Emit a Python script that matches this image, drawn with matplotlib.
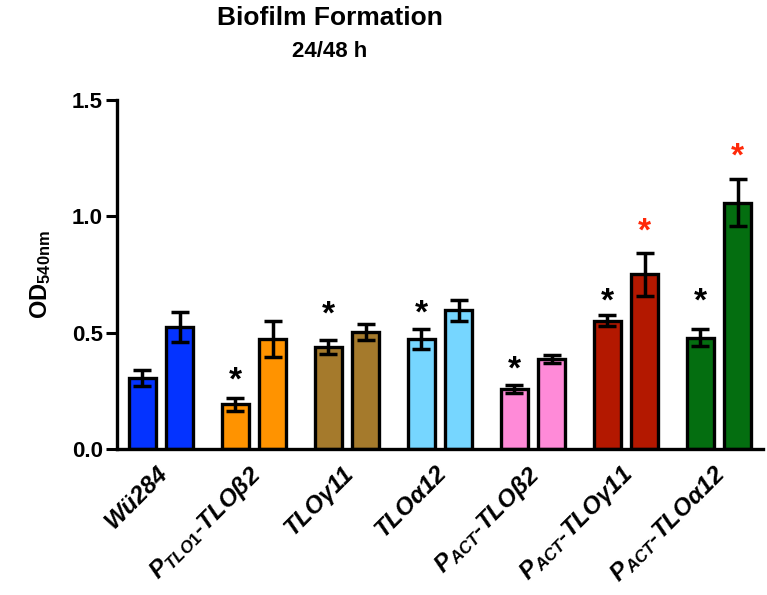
import numpy as np
import matplotlib
matplotlib.use("Agg")
import matplotlib.pyplot as plt

plt.rcParams['font.family'] = ['Liberation Sans', 'DejaVu Sans']
plt.rcParams['font.weight'] = 'bold'
plt.rcParams['mathtext.fontset'] = 'custom'
plt.rcParams['mathtext.rm'] = 'Liberation Sans:bold'
plt.rcParams['mathtext.it'] = 'Liberation Sans:italic:bold'
plt.rcParams['mathtext.bf'] = 'Liberation Sans:bold'

# Daten
strains = ['Wü284', 'P$_{TLO1}$-TLOβ2', 'TLOγ11', 'TLOα12',
           'P$_{ACT}$-TLOβ2', 'P$_{ACT}$-TLOγ11', 'P$_{ACT}$-TLOα12']
colors = ['#0433FF', '#FF9300', '#A57A2C', '#76D6FF', '#FF8AD8', '#B31800', '#046E10']
od_24h = [0.305, 0.192, 0.438, 0.471, 0.257, 0.552, 0.479]
err_24h = [0.036, 0.027, 0.029, 0.043, 0.017, 0.022, 0.036]
od_48h = [0.524, 0.473, 0.502, 0.597, 0.386, 0.751, 1.059]
err_48h = [0.065, 0.077, 0.035, 0.045, 0.016, 0.093, 0.100]
# Signifikanz-Sterne (Höhe, None = kein Stern)
star_24h = [None, 0.29, 0.575, 0.582, 0.34, 0.632, 0.632]
star_48h = [None, None, None, None, None, 0.933, 1.254]

x = np.arange(len(strains))
w = 0.29
d = 0.2

fig = plt.figure(figsize=(7.67, 5.95), dpi=100)
ax = fig.add_axes([0.1525, 0.2454, 0.842, 0.5866])

ax.bar(x - d, od_24h, w, color=colors, edgecolor='black', linewidth=2.4, zorder=2)
ax.bar(x + d, od_48h, w, color=colors, edgecolor='black', linewidth=2.4, zorder=2)
ax.errorbar(x - d, od_24h, yerr=err_24h, fmt='none', ecolor='black',
            elinewidth=2.5, capsize=6.5, capthick=2.5, zorder=3)
ax.errorbar(x + d, od_48h, yerr=err_48h, fmt='none', ecolor='black',
            elinewidth=2.5, capsize=6.5, capthick=2.5, zorder=3)

for i in range(len(strains)):
    if star_24h[i] is not None:
        ax.text(x[i] - d, star_24h[i], '*', ha='center', va='center',
                fontsize=24, color='black')
    if star_48h[i] is not None:
        ax.text(x[i] + d, star_48h[i], '*', ha='center', va='center',
                fontsize=24, color='#FF2A0A')

ax.set_xlim(-0.473, 6.47)
ax.set_ylim(0, 1.5)
ax.set_yticks([0.0, 0.5, 1.0, 1.5])
ax.set_yticklabels(['0.0', '0.5', '1.0', '1.5'], fontsize=16, fontweight='bold')
ax.set_xticks(x - 0.06)
ax.set_xticklabels(strains, rotation=45, ha='right', rotation_mode='anchor',
                   fontsize=17.5, fontweight='bold', fontstyle='italic')
ax.tick_params(axis='x', length=0, pad=9)
ax.tick_params(axis='y', length=8, width=2.2, direction='out', pad=2)
ax.spines['top'].set_visible(False)
ax.spines['right'].set_visible(False)
ax.spines['left'].set_linewidth(2.4)
ax.spines['bottom'].set_linewidth(2.4)

ax.set_ylabel(r'OD$_{\mathbf{540nm}}$', fontsize=17, fontweight='bold', labelpad=14)

fig.text(0.43, 0.97, 'Biofilm Formation', ha='center', va='center',
         fontsize=19, fontweight='bold')
fig.text(0.43, 0.913, '24/48 h', ha='center', va='center',
         fontsize=16, fontweight='bold')

plt.savefig('out.png', dpi=100)
